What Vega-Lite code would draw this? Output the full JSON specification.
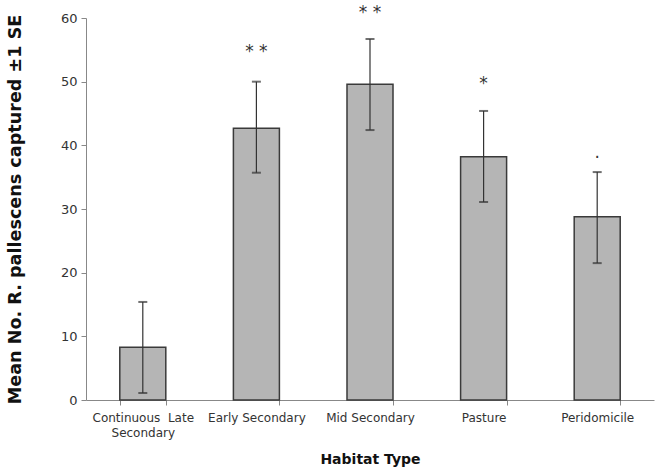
{
  "$schema": "https://vega.github.io/schema/vega-lite/v6.json",
  "autosize": "none",
  "width": 568,
  "height": 382,
  "padding": {"left": 86, "top": 18, "right": 1, "bottom": 69},
  "background": "white",
  "config": {"view": {"stroke": null}, "font": "DejaVu Sans"},
  "data": {
    "values": [
      {"habitat": "Continuous Late Secondary", "mean": 8.3, "lo": 1.1, "hi": 15.4, "sig": "", "sigY": 0},
      {"habitat": "Early Secondary", "mean": 42.7, "lo": 35.7, "hi": 50.0, "sig": "* *", "sigY": 53.9},
      {"habitat": "Mid Secondary", "mean": 49.6, "lo": 42.4, "hi": 56.7, "sig": "* *", "sigY": 60.0},
      {"habitat": "Pasture", "mean": 38.2, "lo": 31.1, "hi": 45.4, "sig": "*", "sigY": 48.8},
      {"habitat": "Peridomicile", "mean": 28.8, "lo": 21.5, "hi": 35.8, "sig": ".", "sigY": 38.0}
    ]
  },
  "encoding": {
    "x": {
      "field": "habitat",
      "type": "nominal",
      "sort": null,
      "scale": {"paddingInner": 0.595, "paddingOuter": 0.2975},
      "axis": {
        "title": "Habitat Type",
        "titleFont": "DejaVu Sans",
        "titleFontSize": 14,
        "titleFontWeight": "bold",
        "titleColor": "#111",
        "titlePadding": 14,
        "labelAngle": 0,
        "labelFontSize": 12,
        "labelColor": "#333",
        "labelPadding": 7,
        "labelLineHeight": 15,
        "labelExpr": "datum.value == 'Continuous Late Secondary' ? ['Continuous\u00a0\u00a0Late', 'Secondary'] : datum.label",
        "tickBand": "extent",
        "tickSize": 5,
        "tickColor": "#888",
        "domainColor": "#888",
        "grid": false
      }
    }
  },
  "layer": [
    {
      "mark": {"type": "bar", "fill": "#b5b5b5", "stroke": "#3a3a3a", "strokeWidth": 1.5},
      "encoding": {
        "y": {
          "field": "mean",
          "type": "quantitative",
          "scale": {"domain": [0, 60]},
          "axis": {
            "title": "Mean No. R. pallescens captured ±1 SE",
            "titleFont": "DejaVu Sans",
            "titleFontSize": 17.6,
            "titleFontWeight": "bold",
            "titleColor": "#111",
            "titlePadding": 36,
            "values": [0, 10, 20, 30, 40, 50, 60],
            "labelFontSize": 13,
            "labelColor": "#333",
            "labelPadding": 4,
            "tickSize": 5,
            "tickColor": "#888",
            "domainColor": "#888",
            "grid": false
          }
        }
      }
    },
    {
      "mark": {"type": "rule", "color": "#333", "strokeWidth": 1.2},
      "encoding": {
        "y": {"field": "lo", "type": "quantitative"},
        "y2": {"field": "hi"}
      }
    },
    {
      "mark": {"type": "tick", "color": "#333", "thickness": 2, "size": 9, "orient": "horizontal"},
      "encoding": {"y": {"field": "lo", "type": "quantitative"}}
    },
    {
      "mark": {"type": "tick", "color": "#333", "thickness": 2, "size": 9, "orient": "horizontal"},
      "encoding": {"y": {"field": "hi", "type": "quantitative"}}
    },
    {
      "mark": {"type": "text", "fontSize": 17, "color": "#333", "baseline": "alphabetic", "clip": false},
      "encoding": {
        "y": {"field": "sigY", "type": "quantitative"},
        "text": {"field": "sig"}
      }
    }
  ]
}
